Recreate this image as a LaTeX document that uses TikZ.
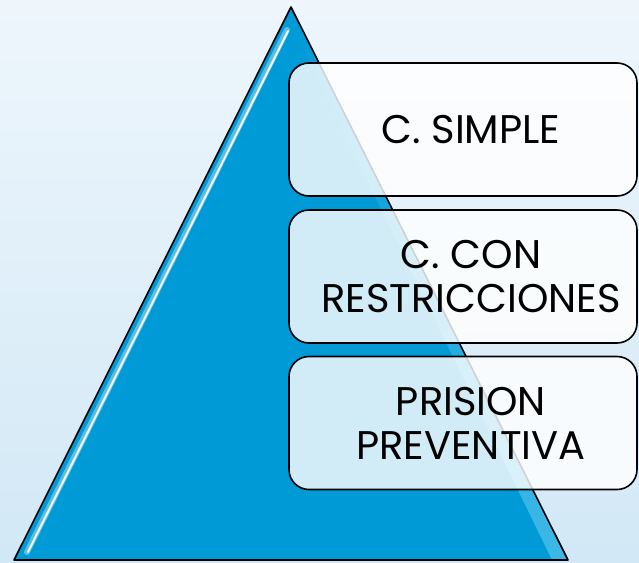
\documentclass[tikz,border=0pt]{standalone}
\usepackage{fontspec}
\setmainfont{Poppins}
\definecolor{bgtop}{HTML}{EEF6FC}
\definecolor{bgbot}{HTML}{D2E8F6}
\definecolor{triblue}{HTML}{009AD6}
\definecolor{triedge}{HTML}{3DB8E6}
\tikzset{
  levelbox/.style={draw=black, line width=1.6pt, rounded corners=20pt,
    fill=white, fill opacity=0.82,
    minimum width=348pt, minimum height=133pt, inner sep=0pt},
  leveltext/.style={align=center, font=\fontsize{40}{44}\selectfont,
    text=black, inner sep=0pt},
}
\begin{document}
\begin{tikzpicture}[x=1pt,y=-1pt]
  \shade[top color=bgtop, bottom color=bgbot] (0,0) rectangle (639,562);
  \useasboundingbox (0,0) rectangle (639,562);
  % triangle
  \coordinate (apex) at (291,7);
  \coordinate (bl) at (14,560);
  \coordinate (br) at (568,560);
  \fill[triblue] (apex) -- (bl) -- (br) -- cycle;
  % lighter band along right edge
  \shade[left color=triblue, right color=triedge, shading angle=0]
    (apex) -- (296,35) -- (552,560) -- (br) -- cycle;
  % glossy highlight along left edge
  \draw[white, line width=6pt, opacity=0.35, line cap=round] (287,30) -- (27,552);
  \draw[white, line width=2pt, opacity=0.95, line cap=round] (288,31) -- (28,552);
  \draw[black, line width=1.6pt, line join=round] (apex) -- (bl) -- (br) -- cycle;
  % boxes
  \node[levelbox] (b1) at (463,129.5) {};
  \node[levelbox] (b2) at (463,276.5) {};
  \node[levelbox] (b3) at (463,423) {};
  \node[leveltext] (t1) at ([xshift=8pt]b1.center) {C. SIMPLE};
  \node[leveltext] (t2) at ([xshift=8pt]b2.center) {C. CON\\RESTRICCIONES};
  \node[leveltext] (t3) at ([xshift=8pt]b3.center) {PRISION\\PREVENTIVA};
\end{tikzpicture}
\end{document}
